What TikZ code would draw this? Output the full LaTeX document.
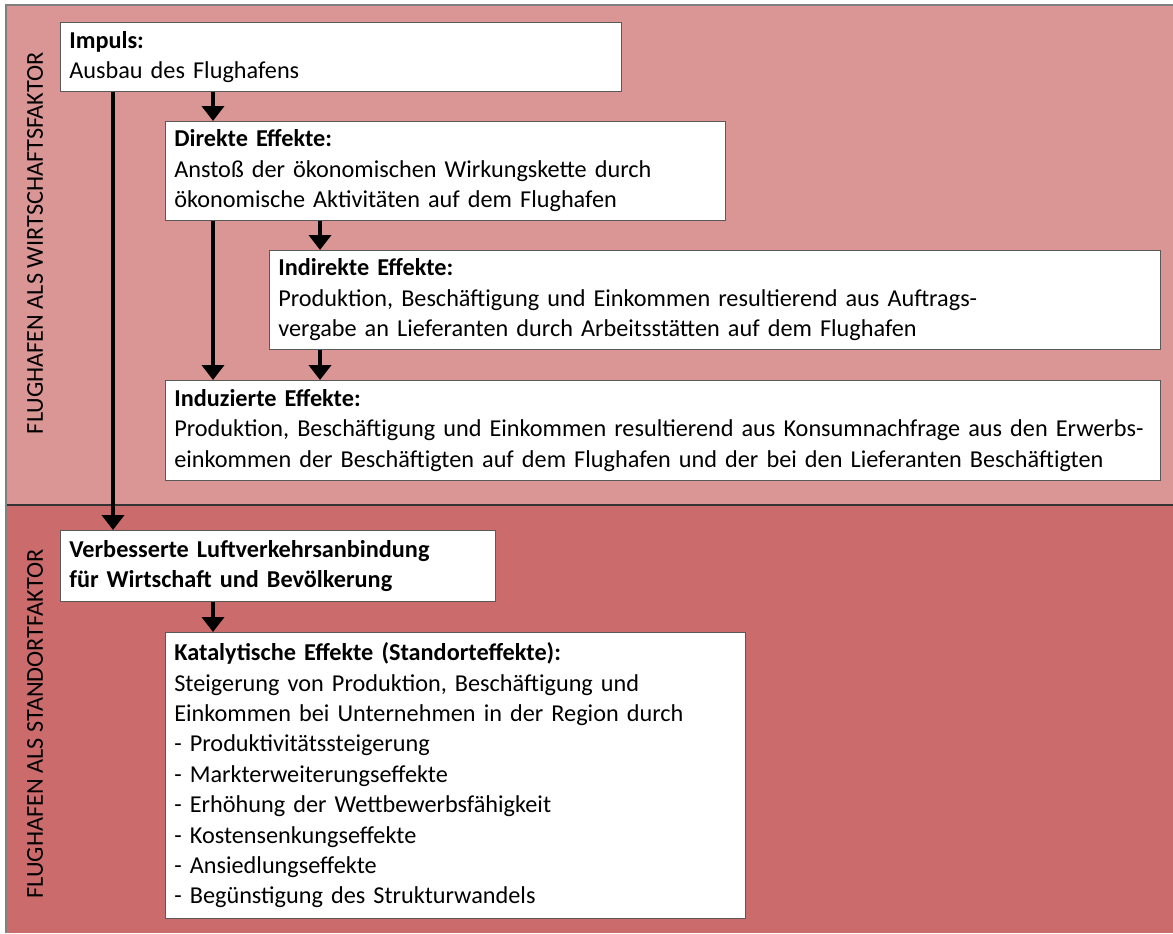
\documentclass[tikz,border=0pt]{standalone}
\usepackage{fontspec}
\setmainfont{Carlito}
\usepackage{tikz}
\usetikzlibrary{arrows.meta}
\definecolor{bandlight}{HTML}{DA9694}
\definecolor{banddark}{HTML}{CB6B6B}
\tikzstyle{effect}=[draw=black!65, fill=white, anchor=north west, align=left, inner xsep=0.18cm, inner ysep=2pt, font=\fontsize{13.8}{17.3}\selectfont]
\tikzstyle{flow}=[line width=2.3pt, -{Triangle[width=0.44cm, length=0.3cm]}]
\tikzstyle{sidelabel}=[rotate=90, font=\fontsize{13.8}{17}\selectfont]

\begin{document}
\begin{tikzpicture}[x=0.02cm, y=-0.02cm]
        \useasboundingbox (0,0) rectangle (1173,933);
        % background bands
        \fill[bandlight] (7,6) rectangle (1173,505);
        \fill[banddark]  (7,505) rectangle (1173,933);
        \draw[gray, line width=1.5pt] (1173,5) -- (6,5) -- (6,933);
        \draw[black!80, line width=1.2pt] (7,505) -- (1173,505);
        \node[sidelabel] (wirt) at (35,243) {FLUGHAFEN ALS WIRTSCHAFTSFAKTOR};
        \node[sidelabel] (stand) at (35,724) {FLUGHAFEN ALS STANDORTFAKTOR};
        % boxes
        \node[effect, text width=10.86cm, minimum height=1.38cm] (impuls) at (60,22)
            {\textbf{Impuls:}\\Ausbau des Flughafens};
        \node[effect, text width=10.84cm, minimum height=1.98cm] (direkt) at (165,121)
            {\textbf{Direkte Effekte:}\\Anstoß der ökonomischen Wirkungskette durch\\ökonomische Aktivitäten auf dem Flughafen};
        \node[effect, text width=17.46cm, minimum height=1.98cm] (indirekt) at (269,250)
            {\textbf{Indirekte Effekte:}\\Produktion, Beschäftigung und Einkommen resultierend aus Auftrags-\\vergabe an Lieferanten durch Arbeitsstätten auf dem Flughafen};
        \node[effect, text width=19.54cm, minimum height=2.0cm] (induziert) at (165,380)
            {\textbf{Induzierte Effekte:}\\\mbox{Produktion, Beschäftigung und Einkommen resultierend aus Konsumnachfrage aus den Erwerbs-}\\einkommen der Beschäftigten auf dem Flughafen und der bei den Lieferanten Beschäftigten};
        \node[effect, text width=8.34cm, minimum height=1.42cm, font=\fontsize{13.8}{17.3}\selectfont\bfseries] (verkehr) at (60,530)
            {Verbesserte Luftverkehrsanbindung\\für Wirtschaft und Bevölkerung};
        \node[effect, text width=11.24cm, minimum height=5.72cm] (katalyt) at (165,632)
            {\textbf{Katalytische Effekte (Standorteffekte):}\\Steigerung von Produktion, Beschäftigung und\\Einkommen bei Unternehmen in der Region durch\\- Produktivitätssteigerung\\- Markterweiterungseffekte\\- Erhöhung der Wettbewerbsfähigkeit\\- Kostensenkungseffekte\\- Ansiedlungseffekte\\- Begünstigung des Strukturwandels};
        % arrows
        \coordinate (c1) at (113,0);
        \coordinate (c2) at (213,0);
        \coordinate (c3) at (320,0);
        \draw[flow] (c1 |- impuls.south) -- (c1 |- verkehr.north);
        \draw[flow] (c2 |- impuls.south) -- (c2 |- direkt.north);
        \draw[flow] (c2 |- direkt.south) -- (c2 |- induziert.north);
        \draw[flow] (c3 |- direkt.south) -- (c3 |- indirekt.north);
        \draw[flow] (c3 |- indirekt.south) -- (c3 |- induziert.north);
        \draw[flow] (c2 |- verkehr.south) -- (c2 |- katalyt.north);
    \end{tikzpicture}
\end{document}
